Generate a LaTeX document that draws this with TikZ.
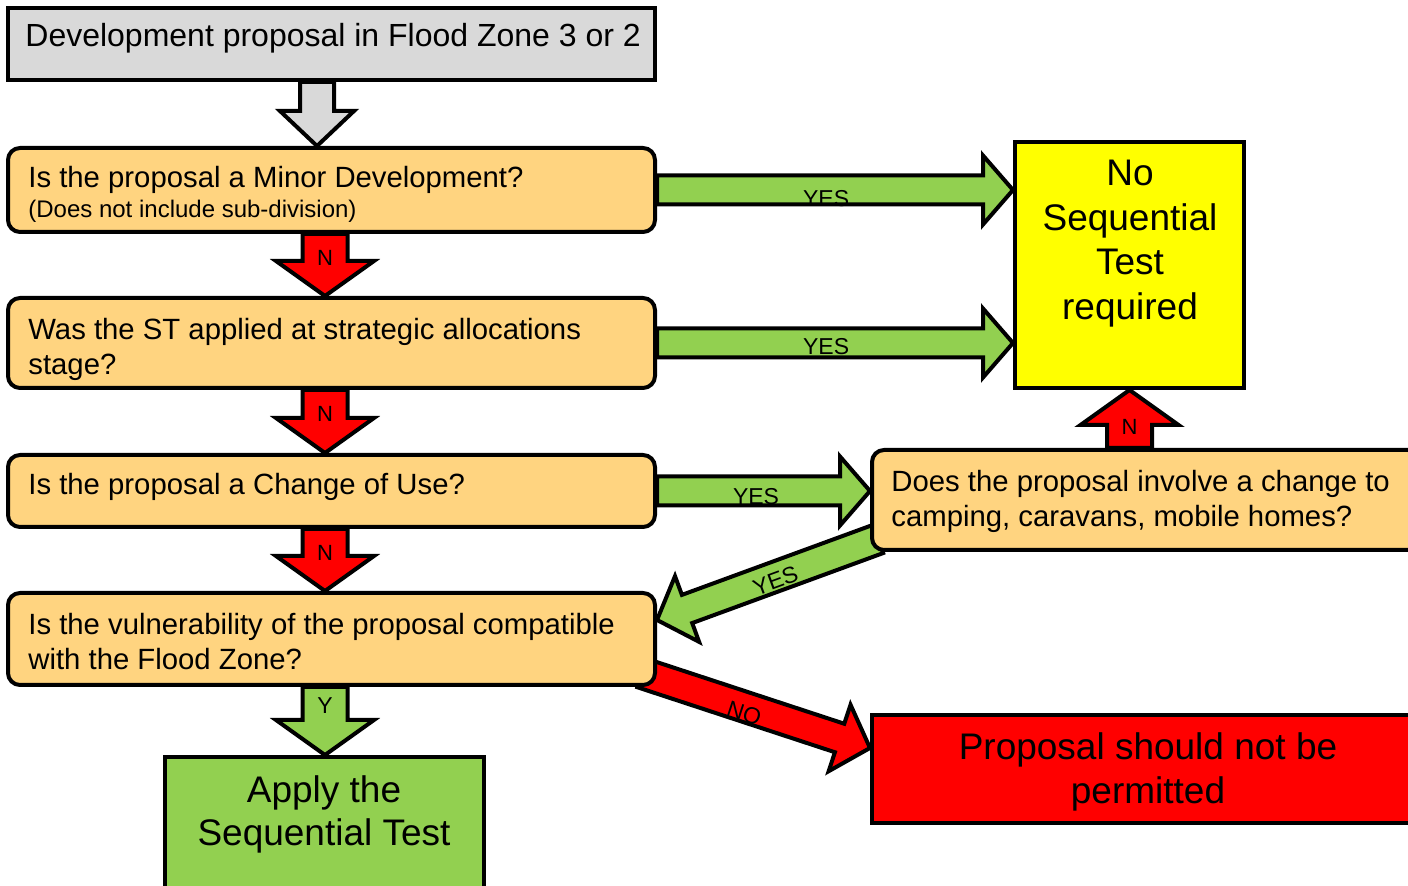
\documentclass[tikz,border=0pt]{standalone}
\usepackage{fontspec}
\setmainfont{Liberation Sans}
\usetikzlibrary{calc,backgrounds}
\definecolor{boxorange}{RGB}{255,212,128}
\definecolor{boxgrey}{RGB}{217,217,217}
\definecolor{boxgreen}{RGB}{146,208,80}
\definecolor{boxyellow}{RGB}{255,255,0}
\definecolor{boxred}{RGB}{255,0,0}
% #1 style, #2 from, #3 to, #4 shaft half width (pt), #5 head half width (pt), #6 head length (pt)
\newcommand\blockarrow[6]{%
  \pgfpointdiff{\pgfpointanchor{#2}{center}}{\pgfpointanchor{#3}{center}}%
  \pgfgetlastxy{\bax}{\bay}%
  \pgfmathsetmacro\balen{veclen(\bax,\bay)}%
  \pgfmathsetmacro\baang{atan2(\bay,\bax)}%
  \pgfmathsetmacro\babase{\balen-#6}%
  \draw[#1, shift={(#2)}, rotate=\baang]
    (0pt,#4pt) -- (\babase pt,#4pt) -- (\babase pt,#5pt) -- (\balen pt,0pt)
    -- (\babase pt,-#5pt) -- (\babase pt,-#4pt) -- (0pt,-#4pt) -- cycle;
}
\begin{document}
\begin{tikzpicture}[x=0.5pt,y=-0.5pt,
  box/.style={draw=black, line width=2pt, inner sep=0pt},
  qbox/.style={box, fill=boxorange, rounded corners=6pt},
  qtext/.style={font=\fontsize{14.65}{17.5}\selectfont, align=left, anchor=west, inner sep=0pt},
  bigtext/.style={font=\fontsize{18.5}{22}\selectfont, align=center, inner sep=0pt},
  barrow/.style={draw=black, line width=2pt, line join=miter},
  lbl/.style={font=\fontsize{11.5}{12}\selectfont, inner sep=0pt},
  nlbl/.style={font=\fontsize{11}{12}\selectfont, inner sep=0pt}]

\useasboundingbox (0,0) rectangle (1408,886);
\clip (0,0) rectangle (1408,886);

% boxes
\node[box, fill=boxgrey, minimum width=323.5pt, minimum height=36pt] (start) at (331.5,44) {};
\node[qtext, font=\fontsize{16}{18}\selectfont] (tstart) at (25,38) {Development proposal in Flood Zone 3 or 2};

\node[qbox, minimum width=323.5pt, minimum height=42pt] (q1) at (331.5,190) {};
\node[qtext] (tq1) at (28,180) {Is the proposal a Minor Development?};
\node[qtext, font=\fontsize{12}{14}\selectfont] (tq1b) at (28,211) {(Does not include sub-division)};

\node[qbox, minimum width=323.5pt, minimum height=45pt] (q2) at (331.5,343) {};
\node[qtext] (tq2) at (28,349.5) {Was the ST applied at strategic allocations\\stage?};

\node[qbox, minimum width=323.5pt, minimum height=36pt] (q3) at (331.5,491) {};
\node[qtext] (tq3) at (28,487) {Is the proposal a Change of Use?};

\node[qbox, minimum width=323.5pt, minimum height=46pt] (q4) at (331.5,639) {};
\node[qtext] (tq4) at (28,641.5) {Is the vulnerability of the proposal compatible\\with the Flood Zone?};

\node[qbox, minimum width=274pt, minimum height=50pt] (q5) at (1146,500) {};
\node[qtext] (tq5) at (891,501.5) {Does the proposal involve a change to\\camping, caravans, mobile homes?};

\node[box, fill=boxyellow, minimum width=114.5pt, minimum height=123pt] (ylw) at (1129.5,265) {};
\node[bigtext, font=\fontsize{18.5}{22.25}\selectfont] (tylw) at (1130,243.7) {No\\Sequential\\Test\\required};

\node[box, fill=boxgreen, minimum width=159.5pt, minimum height=71.5pt] (grn) at (324.5,828.5) {};
\node[bigtext, font=\fontsize{18.5}{21.5}\selectfont] (tgrn) at (324,814) {Apply the\\Sequential Test};

\node[box, fill=boxred, minimum width=274pt, minimum height=54pt] (red) at (1146,769) {};
\node[bigtext] (tred) at (1148,771.7) {Proposal should not be\\permitted};

% arrow end points
\coordinate (gx) at (317,0);
\coordinate (cx) at (325,0);
\coordinate (a0s) at (start.south -| gx);
\coordinate (a0e) at (q1.north -| gx);
\coordinate (n1s) at (q1.south -| cx);
\coordinate (n1e) at (q2.north -| cx);
\coordinate (n2s) at (q2.south -| cx);
\coordinate (n2e) at (q3.north -| cx);
\coordinate (n3s) at (q3.south -| cx);
\coordinate (n3e) at (q4.north -| cx);
\coordinate (ys) at (q4.south -| cx);
\coordinate (ye) at (grn.north -| cx);
\coordinate (y1s) at (q1.east);
\coordinate (y1e) at (q1.east -| ylw.west);
\coordinate (y2s) at (q2.east);
\coordinate (y2e) at (q2.east -| ylw.west);
\coordinate (y3s) at (q3.east);
\coordinate (y3e) at (q3.east -| q5.west);
\coordinate (nus) at (ylw.south |- q5.north);
\coordinate (nue) at (ylw.south);
\coordinate (gds) at ($(q5.south west)+(8,-13)$);
\coordinate (gde) at ($(q4.east)+(0,-19)$);
\coordinate (nos) at ($(q4.south east)+(-15,-14)$);
\coordinate (noe) at ($(red.west)+(0,-21)$);

\begin{pgfonlayer}{background}
\blockarrow{barrow, fill=boxgrey}{a0s}{a0e}{8.5}{18.5}{17.5}
\blockarrow{barrow, fill=boxred}{n1s}{n1e}{11.25}{24.5}{17.5}
\blockarrow{barrow, fill=boxred}{n2s}{n2e}{11.25}{24.5}{17.5}
\blockarrow{barrow, fill=boxred}{n3s}{n3e}{11.25}{24.5}{17.5}
\blockarrow{barrow, fill=boxgreen}{ys}{ye}{11.25}{24.5}{17.5}
\blockarrow{barrow, fill=boxred}{nus}{nue}{11.25}{24.5}{17.5}
\blockarrow{barrow, fill=boxgreen}{y1s}{y1e}{7.25}{17.25}{15}
\blockarrow{barrow, fill=boxgreen}{y2s}{y2e}{7.25}{17.25}{15}
\blockarrow{barrow, fill=boxgreen}{y3s}{y3e}{7.25}{17.25}{15}
\blockarrow{barrow, fill=boxgreen}{gds}{gde}{7.5}{17.5}{16}
\blockarrow{barrow, fill=boxred}{nos}{noe}{7.5}{17.5}{16}

% labels
\path (n1s) -- (n1e) node[nlbl, pos=0.38] (ln1) {N};
\path (n2s) -- (n2e) node[nlbl, pos=0.38] (ln2) {N};
\path (n3s) -- (n3e) node[nlbl, pos=0.38] (ln3) {N};
\path (ys) -- (ye) node[lbl, pos=0.27] (lys) {Y};
\path (nus) -- (nue) node[nlbl, pos=0.37] (lnu) {N};
\path (y1s) -- (y1e) node[lbl, pos=0.475, yshift=-4.5pt] (ly1) {YES};
\path (y2s) -- (y2e) node[lbl, pos=0.475, yshift=-2pt] (ly2) {YES};
\path (y3s) -- (y3e) node[lbl, pos=0.465, yshift=-3pt] (ly3) {YES};
\path (gds) -- (gde) node[lbl, pos=0.47, sloped, yshift=-2pt] (lgd) {YES};
\path (nos) -- (noe) node[lbl, pos=0.457, sloped, yshift=-3pt] (lno) {NO};
\end{pgfonlayer}
\end{tikzpicture}
\end{document}
